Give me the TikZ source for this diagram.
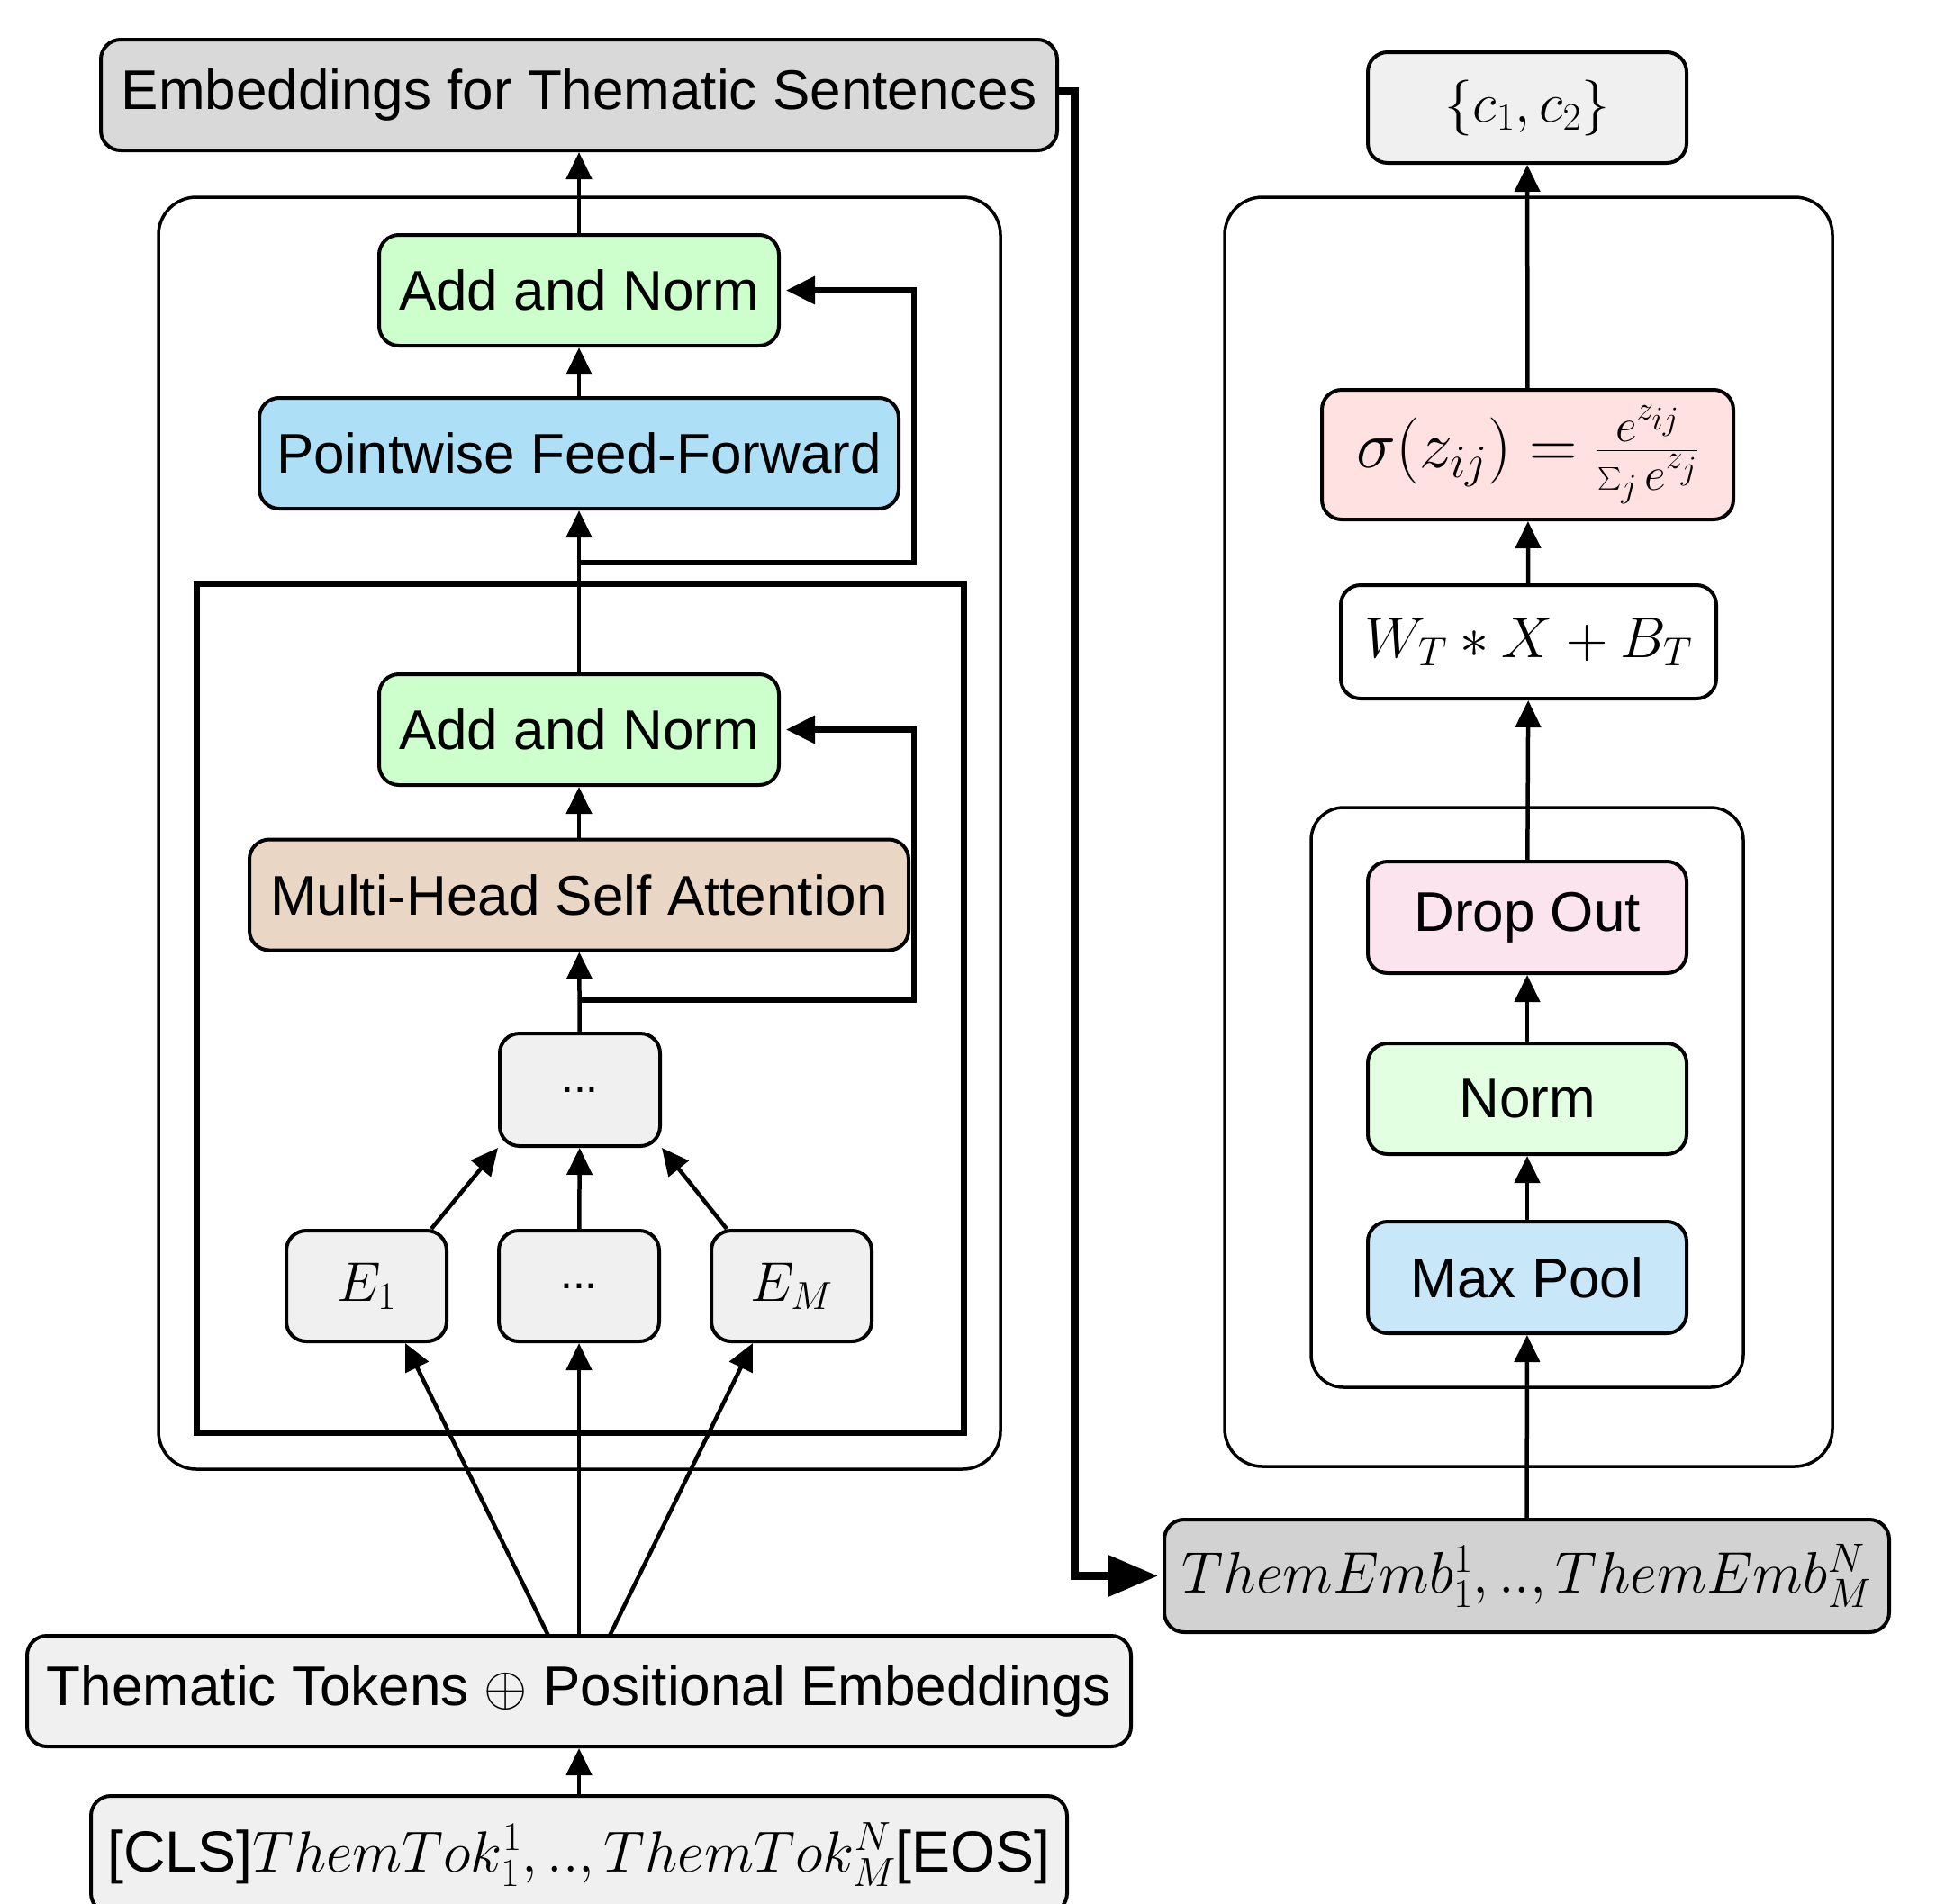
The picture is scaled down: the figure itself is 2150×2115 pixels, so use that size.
\RequirePackage{fix-cm}
\documentclass[tikz,border=0pt]{standalone}
\usepackage{exscale}
\usepackage{fontspec}
\setmainfont{Liberation Sans}
\usetikzlibrary{arrows.meta}
\definecolor{embgray}{RGB}{217,217,217}
\definecolor{lgray}{RGB}{240,240,240}
\definecolor{addgreen}{RGB}{204,255,204}
\definecolor{ffblue}{RGB}{173,223,247}
\definecolor{attan}{RGB}{234,214,196}
\definecolor{softpink}{RGB}{255,225,225}
\definecolor{droppink}{RGB}{252,228,238}
\definecolor{normgreen}{RGB}{226,255,226}
\definecolor{poolblue}{RGB}{200,232,250}
\definecolor{thgray}{RGB}{210,210,210}
\tikzset{
  box/.style={draw, line width=4pt, rounded corners=22pt, minimum height=123pt, inner sep=0pt, text=black, font=\fontsize{62}{74}\selectfont},
  conn/.style={line width=4.5pt, -{Triangle[length=30pt,width=28pt]}},
  skipconn/.style={line width=6.5pt, -{Triangle[length=32pt,width=30pt]}},
  bigconn/.style={line width=9pt, -{Triangle[length=55pt,width=44pt]}},
  frame/.style={line width=3.5pt, rounded corners=42pt},
  blockframe/.style={line width=7pt}
}
\begin{document}
\begin{tikzpicture}[x=1pt,y=-1pt]
\clip (0,0) rectangle (2150,2115);
\fill[white] (0,0) rectangle (2150,2115);

% frames
\draw[frame] (176,219) rectangle (1111,1632);
\draw[blockframe] (218,648) rectangle (1070,1591);
\draw[frame] (1360,219) rectangle (2035,1629);
\draw[line width=3.5pt, rounded corners=36pt] (1456,897) rectangle (1936,1541);

% left column nodes
\node[box, fill=embgray, minimum width=1062pt] (emb) at (643,105.5) {Embeddings for Thematic Sentences};
\node[box, fill=addgreen, minimum width=444pt] (an1) at (643,322.5) {Add and Norm};
\node[box, fill=ffblue, minimum width=710pt] (pff) at (643,503.5) {Pointwise Feed-Forward};
\node[box, fill=addgreen, minimum width=444pt] (an2) at (643,810.5) {Add and Norm};
\node[box, fill=attan, minimum width=732pt] (mhsa) at (643,994) {Multi-Head Self Attention};
\node[box, fill=lgray, minimum width=178pt, minimum height=125pt] (dtop) at (644,1210.5) {\fontsize{50}{60}\selectfont...};
\node[box, fill=lgray, minimum width=178pt] (e1) at (407,1428.5) {$E_1$};
\node[box, fill=lgray, minimum width=178pt] (dmid) at (643,1428.5) {\fontsize{50}{60}\selectfont...};
\node[box, fill=lgray, minimum width=178pt] (em) at (879,1428.5) {$E_M$};
\node[box, fill=lgray, minimum width=1226pt] (tte) at (643,1878.5) {Thematic Tokens $\oplus$ Positional Embeddings};
\node[box, fill=lgray, minimum width=1084pt, minimum height=130pt] (cls) at (643,2060) {\fontsize{64.5}{76}\selectfont[CLS]$ThemTok_1^1,..,ThemTok_M^N$[EOS]};

% right column nodes
\node[box, fill=lgray, minimum width=354pt] (c12) at (1696,119.5) {$\{c_1,c_2\}$};
\node[box, fill=softpink, minimum width=457pt, minimum height=144pt] (soft) at (1696.5,505) {\fontsize{74}{88}\selectfont$\sigma(z_{ij})=\frac{e^{z_{ij}}}{\sum_j e^{z_j}}$};
\node[box, fill=white, minimum width=417pt, minimum height=126pt] (wt) at (1697.5,713) {\fontsize{64}{76}\selectfont$W_T*X+B_T$};
\node[box, fill=droppink, minimum width=354pt, minimum height=124pt] (drop) at (1696,1019) {Drop Out};
\node[box, fill=normgreen, minimum width=354pt] (norm) at (1696,1220.5) {Norm};
\node[box, fill=poolblue, minimum width=354pt, minimum height=124pt] (pool) at (1696,1419) {Max Pool};
\node[box, fill=thgray, minimum width=805pt, minimum height=125pt] (themb) at (1695.5,1750.5) {\fontsize{65}{78}\selectfont$ThemEmb_1^1,..,ThemEmb_M^N$};

% left connectors
\draw[conn] (an1) -- (emb);
\draw[conn] (pff) -- (an1);
\draw[conn] (an2) -- (pff);
\draw[conn] (mhsa) -- (an2);
\draw[conn] (dtop) -- (mhsa);
\draw[conn] (e1.north east) ++(-19,0) coordinate (e1o) -- (dtop.south west);
\draw[conn] (dmid) -- (dtop);
\draw[conn] (em.north west) ++(19,0) coordinate (emo) -- (dtop.south east);
\coordinate (t1) at (609,1817);
\coordinate (t3) at (677,1817);
\coordinate (e1in) at (450,1492);
\coordinate (emin) at (836,1492);
\draw[conn] (t1) -- (e1in);
\draw[conn] (tte) -- (dmid);
\draw[conn] (t3) -- (emin);
\draw[conn] (cls) -- (tte);

% skip connections
\coordinate (s1) at (643,625);
\coordinate (s1r) at (1015,625);
\draw[skipconn, shorten >=6pt] (s1) -- (s1r) |- (an1.east);
\coordinate (s2) at (643,1111);
\coordinate (s2r) at (1015,1111);
\draw[skipconn, shorten >=6pt] (s2) -- (s2r) |- (an2.east);

% right connectors
\draw[conn] (themb) -- (pool);
\draw[conn] (pool) -- (norm);
\draw[conn] (norm) -- (drop);
\draw[conn] (drop) -- (wt);
\draw[conn] (wt) -- (soft);
\draw[conn] (soft) -- (c12);

% long connector
\coordinate (bend) at (1193,101);
\draw[bigconn, shorten >=5pt] (emb.east |- bend) -- (bend) |- (themb.west);
\end{tikzpicture}
\end{document}
